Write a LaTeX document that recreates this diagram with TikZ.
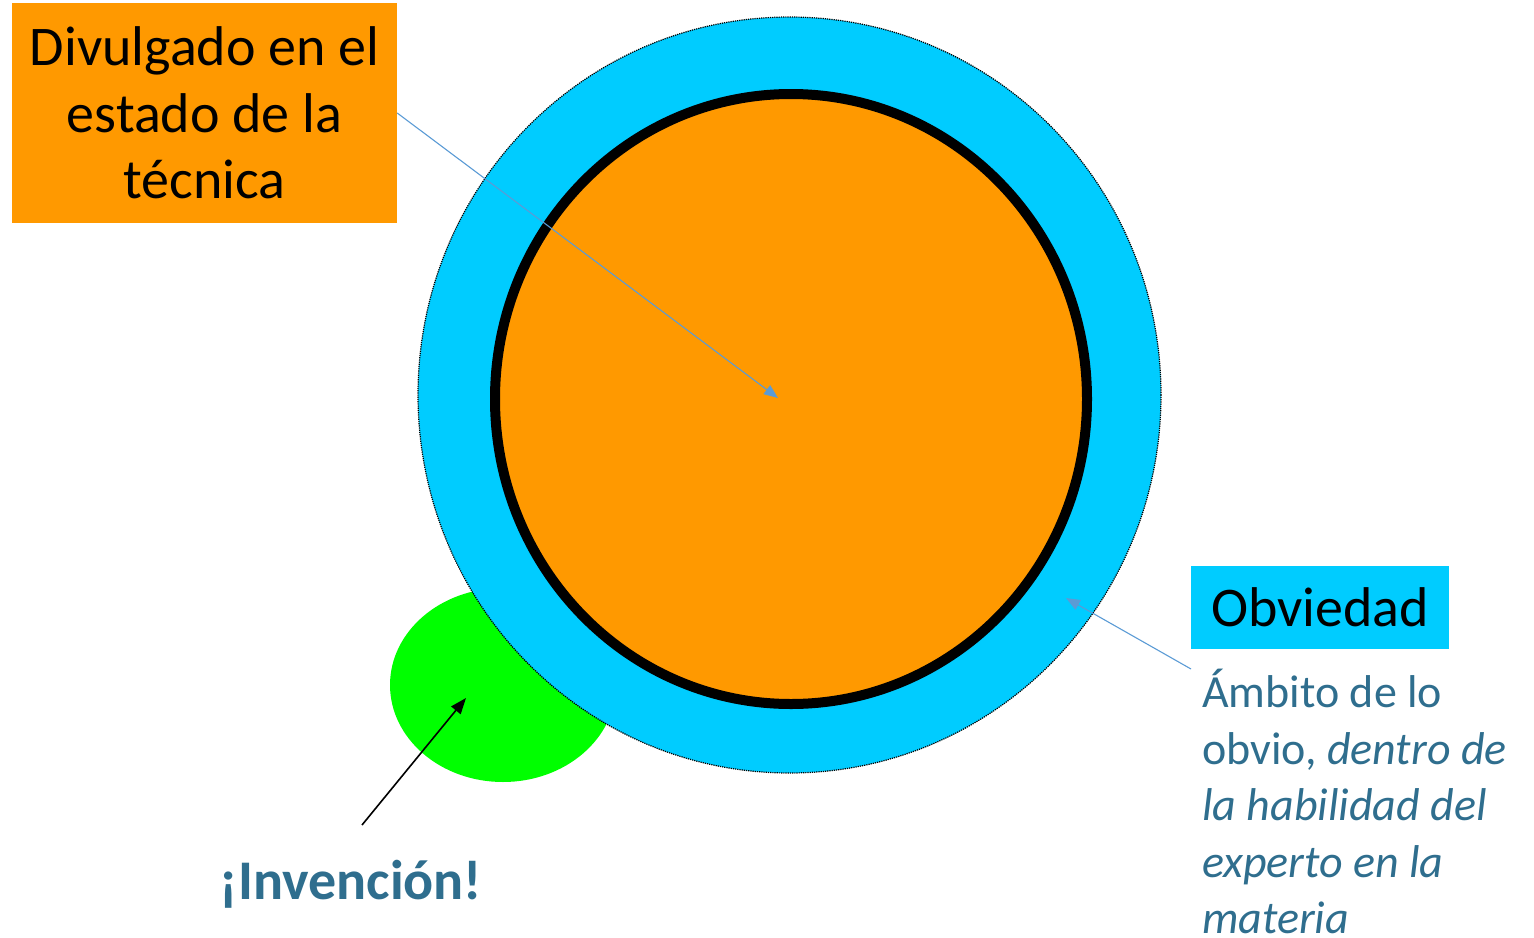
\documentclass[tikz,border=0pt]{standalone}
\usepackage{fontspec}
\setmainfont{Carlito}
\usetikzlibrary{arrows.meta}
\definecolor{orangeF}{HTML}{FF9900}
\definecolor{cyanF}{HTML}{00CCFF}
\definecolor{greenF}{HTML}{00FF00}
\definecolor{arrowBlue}{HTML}{5B9BD5}
\definecolor{tealText}{HTML}{2F6E8E}
\tikzset{
  labelbox/.style={rectangle, inner sep=0pt, align=center, text=black},
  pointer/.style={draw=arrowBlue, line width=1.1pt, -{Triangle[length=14pt,width=11pt]}},
  blackpointer/.style={draw=black, line width=1.6pt, -{Triangle[length=16pt,width=12pt]}},
}
\begin{document}
\begin{tikzpicture}[x=1pt,y=-1pt]
\useasboundingbox (0,0) rectangle (1534,937);
% green invention blob
\fill[greenF] (503,685) ellipse [x radius=113pt, y radius=97pt];
% obviousness ring
\draw[fill=cyanF, draw=black, densely dotted, line width=1.2pt] (789.5,395) ellipse [x radius=371.5pt, y radius=378pt];
% prior art
\draw[fill=orangeF, draw=black, line width=10pt] (791,399) ellipse [x radius=296pt, y radius=305pt];
\coordinate (center) at (778,398);
\coordinate (ringpt) at (1066,598);
\coordinate (invtip) at (466,698);
\coordinate (invtail) at (362,825);

\node[labelbox, fill=orangeF, minimum width=385pt, minimum height=220pt,
      font=\fontsize{56}{66.5}\selectfont] (divul) at (204.5,113)
  {Divulgado en el\\estado de la\\técnica};
\node[labelbox, fill=cyanF, minimum width=258pt, minimum height=83pt,
      font=\fontsize{56}{64}\selectfont] (obv) at (1320,607.5) {Obviedad};
\node[anchor=north west, inner xsep=11pt, inner ysep=0pt, align=left, text=tealText,
      font=\fontsize{46}{56.5}\selectfont] (amb) at (1191,669)
  {Ámbito de lo\\obvio, \textit{dentro de}\\\textit{la habilidad del}\\\textit{experto en la}\\\textit{materia}};
\node[anchor=base, text=tealText, inner sep=0pt,
      font=\fontsize{56}{60}\selectfont\bfseries] (inv) at (351,899) {¡Invención!};

\draw[pointer] (divul.east) -- (center);
\draw[pointer] (amb.north west) -- (ringpt);
\draw[blackpointer] (invtail) -- (invtip);
\end{tikzpicture}
\end{document}
